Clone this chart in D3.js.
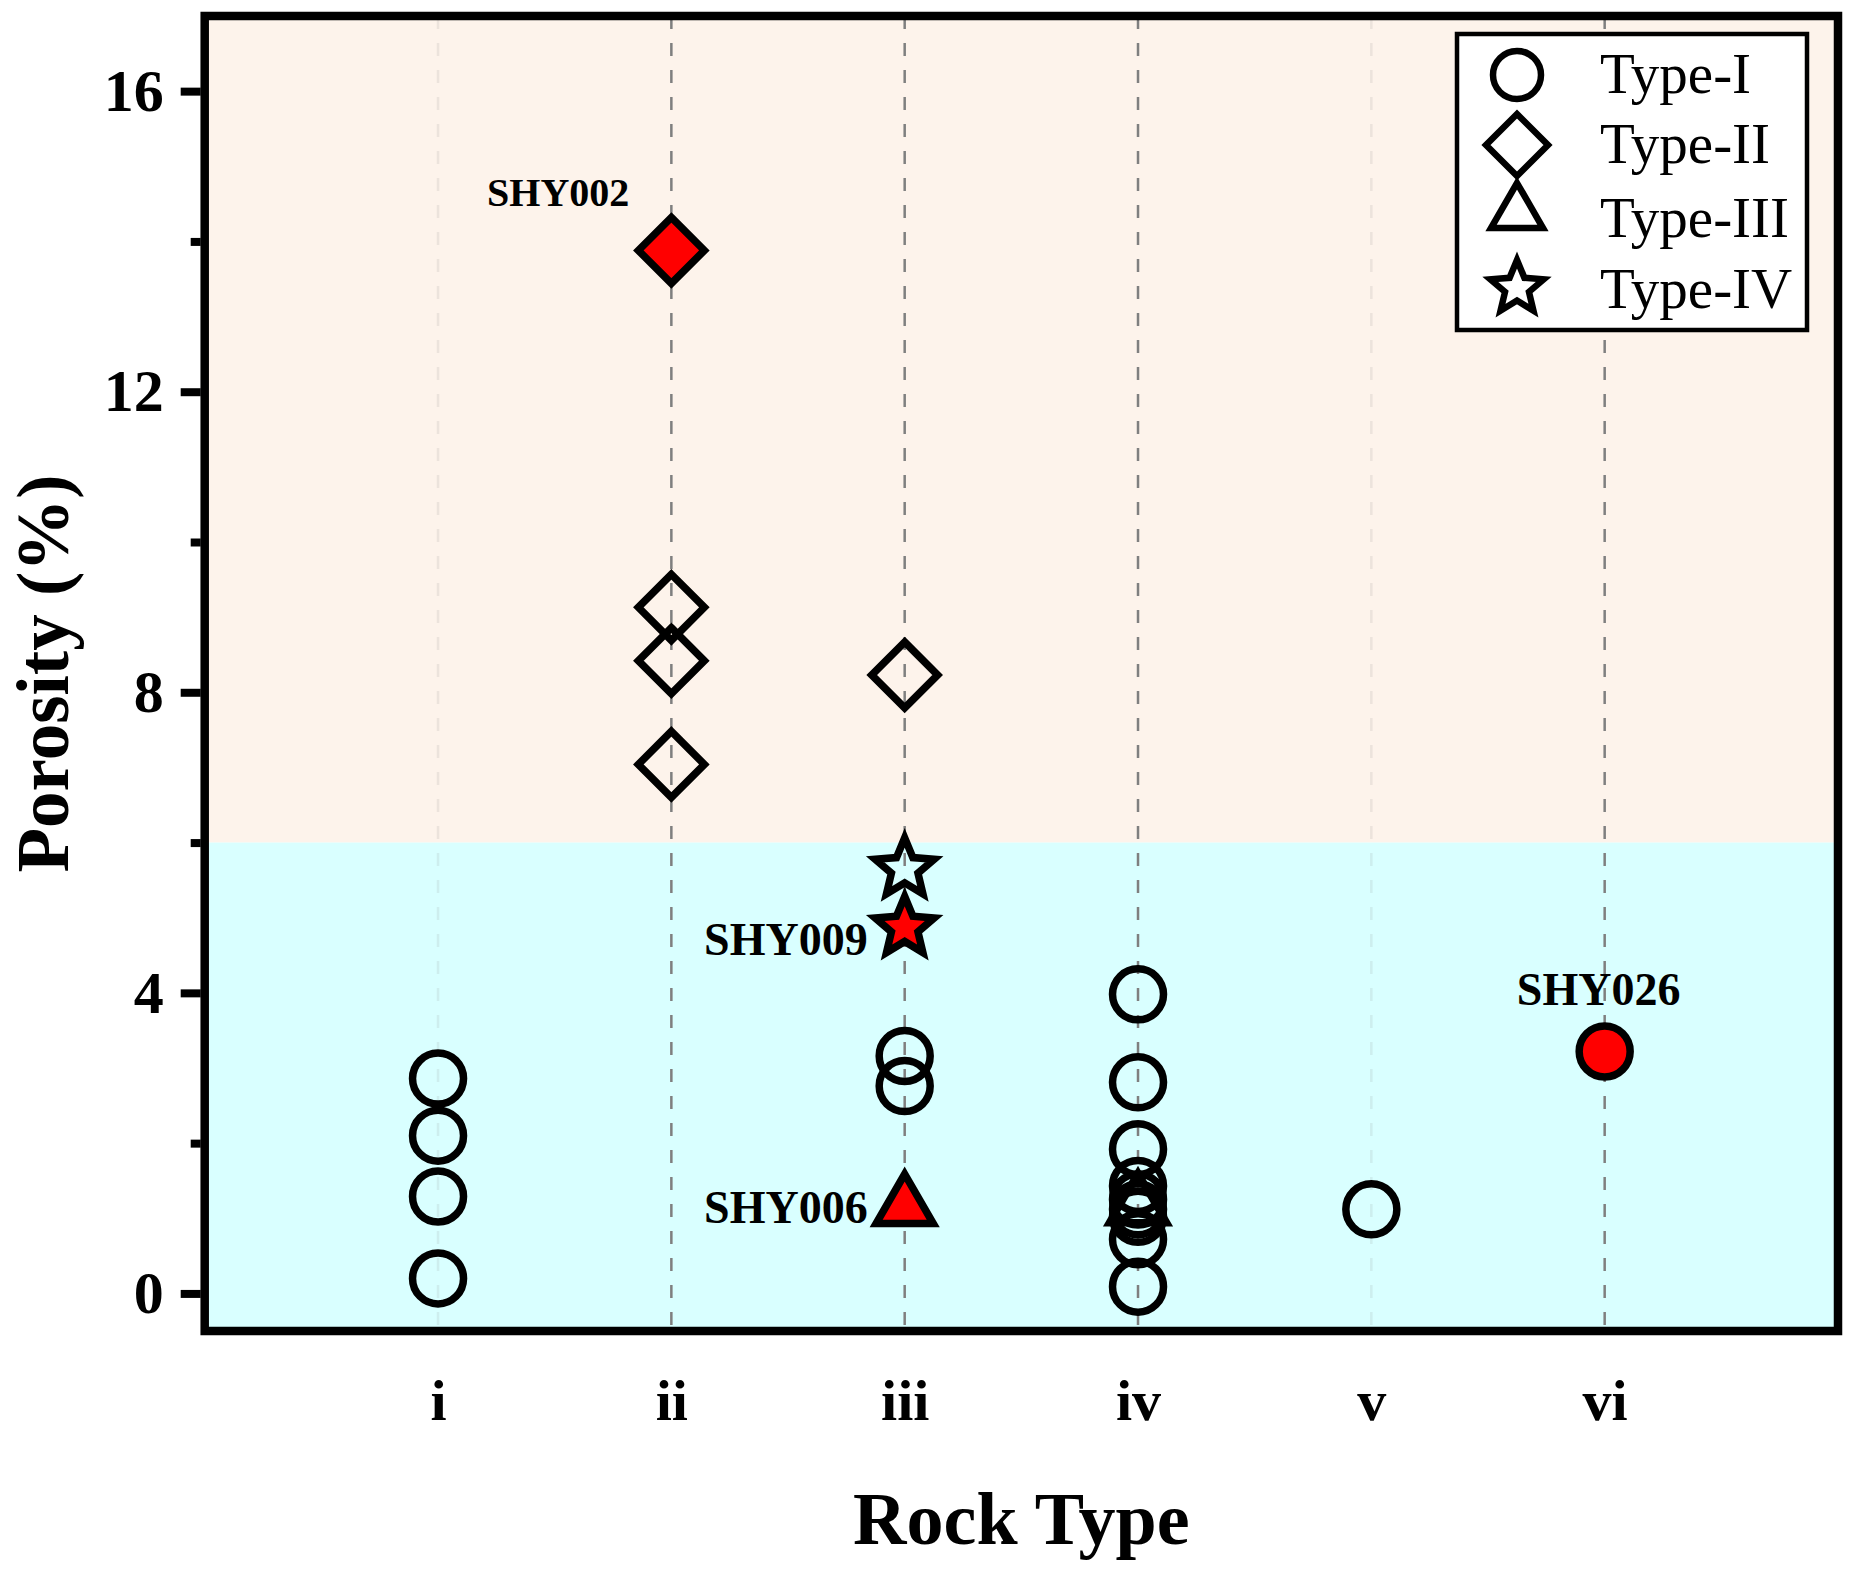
<!DOCTYPE html>
<html>
<head>
<meta charset="utf-8">
<script src="https://cdn.jsdelivr.net/npm/d3@7"></script>
<style>
  html, body { margin: 0; padding: 0; background: #ffffff; }
  svg { display: block; }
</style>
</head>
<body>
<div id="chart"></div>
<script>
// ---------------- DATA ----------------
const categories = ["i", "ii", "iii", "iv", "v", "vi"];
const yTickValues = [0, 4, 8, 12, 16];
const yMinorTickValues = [2, 6, 10, 14];
const legendLabels = ["Type-I", "Type-II", "Type-III", "Type-IV"];

// Type-I (circles)
const typeICategory = ["i", "i", "i", "i", "iii", "iii", "iv", "iv", "iv", "iv", "iv", "iv", "iv", "iv", "iv", "v", "vi"];
const typeIValue    = [2.86, 2.10, 1.29, 0.20, 3.16, 2.76, 3.98, 2.81, 1.92, 1.43, 1.25, 1.12, 1.02, 0.72, 0.09, 1.12, 3.22];
// Type-II (diamonds)
const typeIICategory = ["ii", "ii", "ii", "ii", "iii"];
const typeIIValue    = [13.88, 9.13, 8.42, 7.04, 8.23];
// Type-III (triangles)
const typeIIICategory = ["iii", "iv"];
const typeIIIValue    = [1.15, 1.16];
// Type-IV (stars)
const typeIVCategory = ["iii", "iii"];
const typeIVValue    = [5.65, 4.87];

// Highlighted samples (red)
const sampleNames    = ["SHY002", "SHY009", "SHY006", "SHY026"];
const sampleType     = ["Type-II", "Type-IV", "Type-III", "Type-I"];
const sampleCategory = ["ii", "iii", "iii", "vi"];
const sampleValue    = [13.88, 4.87, 1.15, 3.22];

// Background zones
const zoneBounds = [-0.5, 6, 17];

// ---------------- LAYOUT ----------------
const W = 1866, H = 1582;
const svg = d3.select("#chart").append("svg").attr("width", W).attr("height", H);

const x = d3.scaleLinear().domain([0, categories.length + 1]).range([204.7, 1838]);
const y = d3.scaleLinear().domain([zoneBounds[0], zoneBounds[2]]).range([1331, 16]);
const xc = c => x(categories.indexOf(c) + 1);

const serif = "'Liberation Serif', 'Times New Roman', serif";

// backgrounds
svg.append("rect")
  .attr("x", x(0)).attr("width", x(7) - x(0))
  .attr("y", y(zoneBounds[2])).attr("height", y(zoneBounds[1]) - y(zoneBounds[2]))
  .attr("fill", "#fdf3eb");
svg.append("rect")
  .attr("x", x(0)).attr("width", x(7) - x(0))
  .attr("y", y(zoneBounds[1])).attr("height", y(zoneBounds[0]) - y(zoneBounds[1]))
  .attr("fill", "#d9ffff");

// vertical dashed guide lines
svg.append("g").selectAll("line").data(categories).join("line")
  .attr("x1", d => xc(d)).attr("x2", d => xc(d))
  .attr("y1", y(17)).attr("y2", y(-0.5))
  .attr("stroke", "#7f7f7f")
  .attr("stroke-opacity", (d, i) => (i === 0 || i === 4) ? 0.13 : 1)
  .attr("stroke-width", 2.5)
  .attr("stroke-dasharray", "13,14");

// ---------------- SYMBOLS ----------------
function shapePath(type, r) {
  if (type === "Type-I") {
    return `M${r},0 A${r},${r} 0 1,1 ${-r},0 A${r},${r} 0 1,1 ${r},0 Z`;
  }
  if (type === "Type-II") {
    return `M0,${-r} L${r},0 L0,${r} L${-r},0 Z`;
  }
  if (type === "Type-III") {
    const s = Math.sin(Math.PI / 3) * r;
    return `M0,${-r} L${s},${r / 2} L${-s},${r / 2} Z`;
  }
  // star
  const pts = [];
  for (let k = 0; k < 10; k++) {
    const rr = k % 2 === 0 ? r : r * 0.45;
    const a = -Math.PI / 2 + k * Math.PI / 5;
    pts.push([rr * Math.cos(a), rr * Math.sin(a)]);
  }
  return "M" + pts.map(p => p[0].toFixed(2) + "," + p[1].toFixed(2)).join("L") + "Z";
}
const markerSize = { "Type-I": 25.5, "Type-II": 33, "Type-III": 33, "Type-IV": 31 };
const legendSize = { "Type-I": 24, "Type-II": 31, "Type-III": 30, "Type-IV": 28 };

function buildPoints(type, cats, vals) {
  return cats.map((c, i) => ({ type, cat: c, val: vals[i] }));
}
const openPoints = [].concat(
  buildPoints("Type-I", typeICategory, typeIValue),
  buildPoints("Type-II", typeIICategory, typeIIValue),
  buildPoints("Type-III", typeIIICategory, typeIIIValue),
  buildPoints("Type-IV", typeIVCategory, typeIVValue)
).filter(p => !sampleCategory.some((c, j) => c === p.cat && sampleValue[j] === p.val && sampleType[j] === p.type));

const redPoints = sampleNames.map((n, j) => ({ name: n, type: sampleType[j], cat: sampleCategory[j], val: sampleValue[j] }));

svg.append("g").selectAll("path").data(openPoints).join("path")
  .attr("d", d => shapePath(d.type, markerSize[d.type]))
  .attr("transform", d => `translate(${xc(d.cat)},${y(d.val)})`)
  .attr("fill", "none").attr("stroke", "#000").attr("stroke-width", 7.5)
  .attr("stroke-linejoin", "miter");

svg.append("g").selectAll("path").data(redPoints).join("path")
  .attr("d", d => shapePath(d.type, markerSize[d.type]))
  .attr("transform", d => `translate(${xc(d.cat)},${y(d.val)})`)
  .attr("fill", "#ff0000").attr("stroke", "#000").attr("stroke-width", 7.5)
  .attr("stroke-linejoin", "miter");

// sample labels
const labelPos = {
  "SHY002": { dx: -42, dy: -44, anchor: "end", size: 40 },
  "SHY009": { dx: -37, dy: 28, anchor: "end", size: 46 },
  "SHY006": { dx: -37, dy: 16, anchor: "end", size: 46 },
  "SHY026": { dx: -6, dy: -46, anchor: "middle", size: 46 }
};
svg.append("g").selectAll("text").data(redPoints).join("text")
  .attr("x", d => xc(d.cat) + labelPos[d.name].dx)
  .attr("y", d => y(d.val) + labelPos[d.name].dy)
  .attr("text-anchor", d => labelPos[d.name].anchor)
  .attr("font-family", serif).attr("font-weight", "bold")
  .attr("font-size", d => labelPos[d.name].size)
  .attr("fill", "#000")
  .text(d => d.name);

// frame
svg.append("rect")
  .attr("x", x(0)).attr("y", y(17))
  .attr("width", x(7) - x(0)).attr("height", y(-0.5) - y(17))
  .attr("fill", "none").attr("stroke", "#000").attr("stroke-width", 8.5);

// ---------------- AXES ----------------
const yAxis = svg.append("g").attr("transform", `translate(${x(0) - 4},0)`)
  .call(d3.axisLeft(y).tickValues(yTickValues).tickSize(20).tickPadding(17).tickFormat(d3.format("d")));
yAxis.select(".domain").remove();
yAxis.selectAll(".tick line").attr("stroke", "#000").attr("stroke-width", 8);
yAxis.selectAll(".tick text")
  .attr("font-family", serif).attr("font-weight", "bold").attr("font-size", 60)
  .attr("fill", "#000").attr("dy", "0.32em");

const yMinor = svg.append("g").attr("transform", `translate(${x(0) - 4},0)`)
  .call(d3.axisLeft(y).tickValues(yMinorTickValues).tickSize(10).tickFormat(""));
yMinor.select(".domain").remove();
yMinor.selectAll(".tick line").attr("stroke", "#000").attr("stroke-width", 8);

const xAxis = svg.append("g").attr("transform", `translate(0,${y(-0.5)})`)
  .call(d3.axisBottom(d3.scalePoint().domain(categories).range([xc("i"), xc("vi")])).tickSize(0).tickPadding(0));
xAxis.select(".domain").remove();
xAxis.selectAll(".tick text")
  .attr("font-family", serif).attr("font-weight", "bold").attr("font-size", 58)
  .attr("fill", "#000").attr("y", 0).attr("dy", 0)
  .attr("transform", "translate(0,89)");

// axis titles
svg.append("text")
  .attr("x", (x(0) + x(7)) / 2).attr("y", 1544)
  .attr("text-anchor", "middle")
  .attr("font-family", serif).attr("font-weight", "bold").attr("font-size", 74)
  .attr("fill", "#000")
  .text("Rock Type");
svg.append("text")
  .attr("transform", `translate(68,${(y(17) + y(-0.5)) / 2}) rotate(-90)`)
  .attr("text-anchor", "middle")
  .attr("font-family", serif).attr("font-weight", "bold").attr("font-size", 73)
  .attr("fill", "#000")
  .text("Porosity (%)");

// ---------------- LEGEND ----------------
const legend = svg.append("g");
legend.append("rect")
  .attr("x", 1457).attr("y", 34).attr("width", 350).attr("height", 296)
  .attr("fill", "#ffffff").attr("stroke", "#000").attr("stroke-width", 4.5);
const legendRowY = [75, 145, 213, 288];
const legendTextY = [93, 163, 237, 308];
legendLabels.forEach((lab, i) => {
  legend.append("path")
    .attr("d", shapePath(lab, legendSize[lab]))
    .attr("transform", `translate(1517,${legendRowY[i]})`)
    .attr("fill", "none").attr("stroke", "#000").attr("stroke-width", 6.5);
  legend.append("text")
    .attr("x", 1600).attr("y", legendTextY[i])
    .attr("font-family", serif).attr("font-size", 57)
    .attr("fill", "#000")
    .text(lab);
});
</script>
</body>
</html>
